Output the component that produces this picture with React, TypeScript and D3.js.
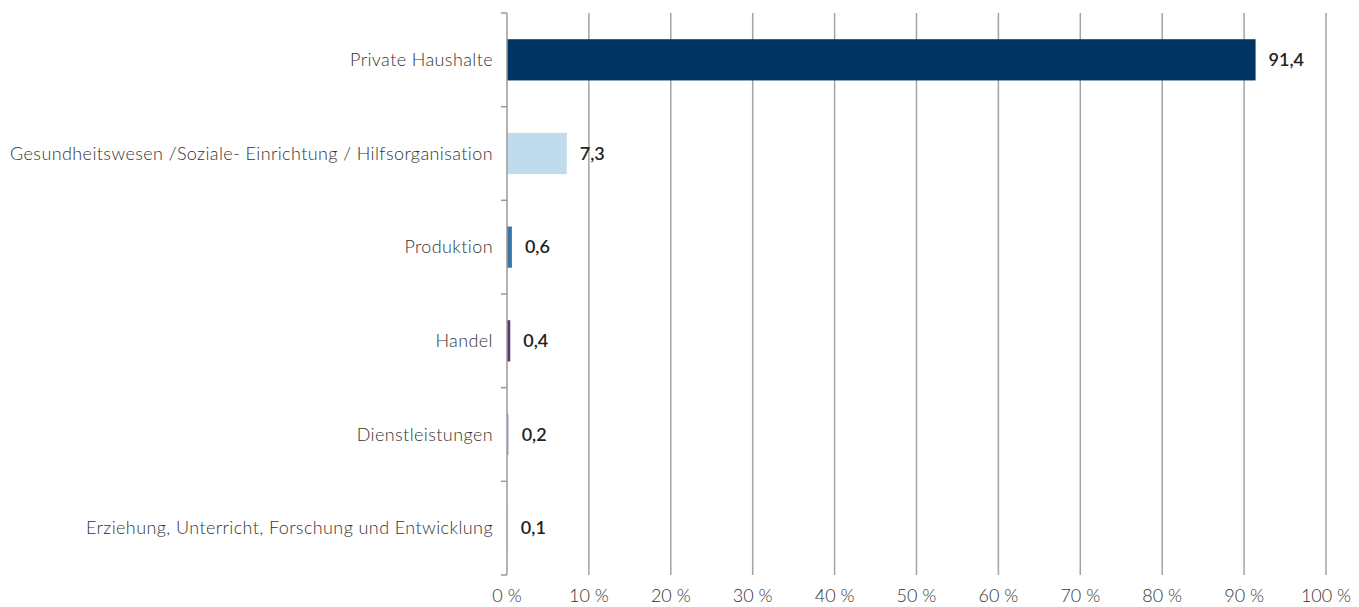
import React from "react";
import * as d3 from "d3";

const categories = [
  "Private Haushalte",
  "Gesundheitswesen /Soziale- Einrichtung / Hilfsorganisation",
  "Produktion",
  "Handel",
  "Dienstleistungen",
  "Erziehung, Unterricht, Forschung und Entwicklung",
];
const values = [91.4, 7.3, 0.6, 0.4, 0.2, 0.1];
const valueLabels = ["91,4", "7,3", "0,6", "0,4", "0,2", "0,1"];
const barColors = ["#003463", "#c0dcec", "#3a76a8", "#5b3b6c", "#b5abd0", "#d8d4e6"];
const xTicks = [0, 10, 20, 30, 40, 50, 60, 70, 80, 90, 100];

const W = 1359;
const H = 607;
const left = 507;
const right = 1326;
const top = 13;
const bottom = 575;
const FONT = "Lato, 'Open Sans', sans-serif";

export default function App() {
  const x = d3.scaleLinear().domain([0, 100]).range([left, right]);
  const y = d3.scaleBand<string>().domain(categories).range([top, bottom]).paddingInner(0.56).paddingOuter(0.28);
  const band = d3.scaleBand<string>().domain(categories).range([top, bottom]);
  const bounds = d3.range(categories.length + 1).map((i) => top + (i * (bottom - top)) / categories.length);

  return (
    <svg width={W} height={H} style={{ position: "absolute", left: 0, top: 0, background: "#fff" }}>
      {xTicks.slice(1).map((t) => (
        <line key={"g" + t} x1={x(t)} x2={x(t)} y1={top} y2={bottom} stroke="#a3a3a3" strokeWidth={1.5} />
      ))}
      {categories.map((c, i) => (
        <rect key={c} x={x(0)} y={y(c)!} width={Math.max(x(values[i]) - x(0), 0)} height={y.bandwidth()} fill={barColors[i]} />
      ))}
      <line x1={left} x2={left} y1={top} y2={bottom} stroke="#9a9a9a" strokeWidth={1.5} />
      {bounds.map((b, i) => (
        <line key={"t" + i} x1={left - 6} x2={left} y1={b} y2={b} stroke="#9a9a9a" strokeWidth={1.5} />
      ))}
      {categories.map((c, i) => (
        <text key={"c" + c} x={left - 14} y={band(c)! + band.bandwidth() / 2} dy="0.35em" textAnchor="end"
          fontFamily={FONT} fontSize={18} fontWeight={300} letterSpacing={0.4} fill="#333">{c}</text>
      ))}
      {categories.map((c, i) => (
        <text key={"v" + c} x={x(values[i]) + 13} y={band(c)! + band.bandwidth() / 2} dy="0.35em" textAnchor="start"
          fontFamily={FONT} fontSize={18} fontWeight={600} fill="#222">{valueLabels[i]}</text>
      ))}
      {xTicks.map((t) => (
        <text key={"x" + t} x={x(t)} y={596} dy="0.35em" textAnchor="middle"
          fontFamily={FONT} fontSize={18} fontWeight={300} fill="#333">{t} %</text>
      ))}
    </svg>
  );
}
